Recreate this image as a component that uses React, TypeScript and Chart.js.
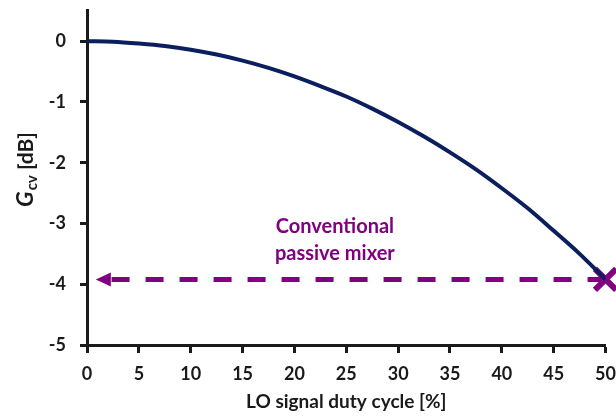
import React, { useEffect, useRef } from "react";
import { Chart, registerables } from "chart.js";

Chart.register(...registerables);

const dutyCycle = [0, 2.5, 5, 7.5, 10, 12.5, 15, 17.5, 20, 22.5, 25, 27.5, 30, 32.5, 35, 37.5, 40, 42.5, 45, 47.5, 50];
const gainDb = [0, -0.01, -0.04, -0.08, -0.14, -0.22, -0.32, -0.44, -0.58, -0.74, -0.91, -1.11, -1.33, -1.57, -1.83, -2.11, -2.42, -2.75, -3.12, -3.5, -3.92];
const conventionalX = [50, 1.6];
const conventionalY = [-3.92, -3.92];
const xTicks = [0, 5, 10, 15, 20, 25, 30, 35, 40, 45, 50];
const yTicks = [0, -1, -2, -3, -4, -5];
const annotationLines = ["Conventional", "passive mixer"];
const annotationX = 23.9;
const annotationY = [-3.05, -3.5];
const arrowTipX = 0.85;

const PURPLE = "#800080";
const NAVY = "#0b1f5e";
const INK = "#1a1a1a";
const FONT = "Lato, 'Open Sans', sans-serif";

const overlayPlugin = {
  id: "overlay",
  afterDatasetsDraw(chart: any) {
    const { ctx, scales } = chart;
    const xs = scales.x;
    const ys = scales.y;
    ctx.save();
    // arrowhead
    const tipX = xs.getPixelForValue(arrowTipX);
    const yy = ys.getPixelForValue(conventionalY[1]);
    ctx.fillStyle = PURPLE;
    ctx.beginPath();
    ctx.moveTo(tipX, yy);
    ctx.lineTo(tipX + 15, yy - 7);
    ctx.lineTo(tipX + 15, yy + 7);
    ctx.closePath();
    ctx.fill();
    // annotation text
    ctx.font = `bold 20px ${FONT}`;
    ctx.textAlign = "center";
    ctx.textBaseline = "middle";
    annotationLines.forEach((t, i) => {
      ctx.fillText(t, xs.getPixelForValue(annotationX), ys.getPixelForValue(annotationY[i]));
    });
    // y axis title: G_cv [dB]
    ctx.fillStyle = INK;
    ctx.translate(25, 170);
    ctx.rotate(-Math.PI / 2);
    ctx.textAlign = "left";
    ctx.textBaseline = "alphabetic";
    const gFont = `italic bold 23px ${FONT}`;
    const subFont = `bold 15px ${FONT}`;
    const restFont = `bold 21px ${FONT}`;
    ctx.font = gFont;
    const wG = ctx.measureText("G").width;
    ctx.font = subFont;
    const wS = ctx.measureText("cv").width;
    ctx.font = restFont;
    const wR = ctx.measureText(" [dB]").width;
    let x = -(wG + wS + wR) / 2;
    ctx.font = gFont;
    ctx.fillText("G", x, 8);
    x += wG + 1;
    ctx.font = subFont;
    ctx.fillText("cv", x, 12);
    x += wS;
    ctx.font = restFont;
    ctx.fillText(" [dB]", x, 8);
    ctx.restore();
  },
};

export default function App() {
  const ref = useRef<HTMLCanvasElement>(null);
  useEffect(() => {
    document.body.style.margin = "0";
    const chart = new Chart(ref.current!, {
      type: "line",
      data: {
        datasets: [
          {
            data: dutyCycle.map((d, i) => ({ x: d, y: gainDb[i] })),
            borderColor: NAVY,
            borderWidth: 4,
            pointRadius: 0,
            cubicInterpolationMode: "monotone",
            fill: false,
          },
          {
            data: conventionalX.map((d, i) => ({ x: d, y: conventionalY[i] })),
            borderColor: PURPLE,
            borderWidth: 5,
            borderDash: [18, 16],
            pointRadius: [15, 0],
            pointStyle: "crossRot",
            pointBorderColor: PURPLE,
            pointBorderWidth: 6,
            pointBackgroundColor: PURPLE,
            fill: false,
            clip: false as any,
          },
        ],
      },
      options: {
        animation: false,
        responsive: false,
        maintainAspectRatio: false,
        layout: { autoPadding: false, padding: { top: 10, right: 10, left: 0, bottom: 0 } },
        plugins: { legend: { display: false }, tooltip: { enabled: false } },
        scales: {
          x: {
            type: "linear",
            min: 0,
            max: 50,
            afterBuildTicks: (s: any) => {
              s.ticks = xTicks.map((v) => ({ value: v }));
            },
            afterFit: (s: any) => {
              s.height = 72;
            },
            grid: {
              display: true,
              drawOnChartArea: false,
              drawTicks: true,
              tickLength: 18,
              tickWidth: 3,
              tickColor: INK,
              tickBorderDash: [6, 100],
            } as any,
            border: { display: true, color: INK, width: 3 },
            ticks: { color: INK, font: { family: FONT, size: 18, weight: "bold" }, padding: 0, maxRotation: 0 },
            title: {
              display: true,
              text: "LO signal duty cycle [%]",
              color: INK,
              font: { family: FONT, size: 19, weight: "bold" },
              padding: { top: 0, bottom: 4 },
            },
          },
          y: {
            type: "linear",
            min: -5,
            max: 0.5,
            afterBuildTicks: (s: any) => {
              s.ticks = yTicks.map((v) => ({ value: v }));
            },
            afterFit: (s: any) => {
              s.width = 87;
            },
            grid: {
              display: true,
              drawOnChartArea: false,
              drawTicks: true,
              tickLength: 21,
              tickWidth: 3,
              tickColor: INK,
              tickBorderDash: [0, 14, 8, 100],
            } as any,
            border: { display: true, color: INK, width: 3 },
            ticks: { color: INK, font: { family: FONT, size: 18, weight: "bold" }, padding: 0 },
          },
        },
      },
      plugins: [overlayPlugin],
    } as any);
    return () => chart.destroy();
  }, []);
  return <canvas ref={ref} width={616} height={417} style={{ display: "block", width: 616, height: 417 }} />;
}
